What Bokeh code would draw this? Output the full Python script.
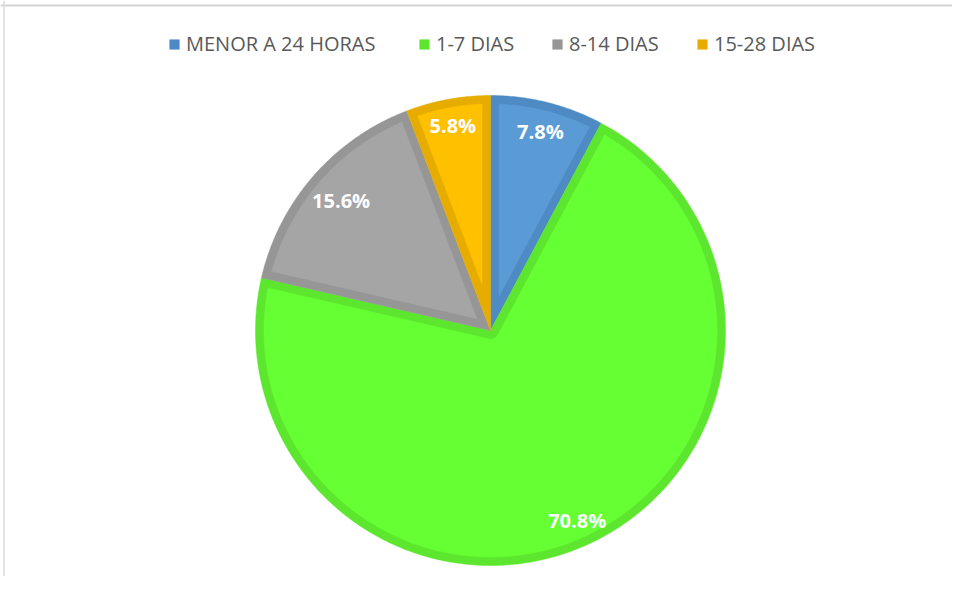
import math
from bokeh.plotting import figure
from bokeh.models import Range1d, Legend, LegendItem, Span, ColumnDataSource
from bokeh.embed import file_html
from bokeh.resources import INLINE
from bokeh.core.properties import value

# ---- data ----
categories = ["MENOR A 24 HORAS", "1-7 DIAS", "8-14 DIAS", "15-28 DIAS"]
percentages = [7.8, 70.8, 15.6, 5.8]
labels = ["7.8%", "70.8%", "15.6%", "5.8%"]

# ---- styles ----
fill_colors = ["#5B9BD5", "#66FF33", "#A5A5A5", "#FFC000"]
border_colors = ["#4E8AC4", "#5CE62E", "#969696", "#E6AD00"]
label_radius = [0.875, 0.89, 0.843, 0.885]   # fraction of radius for data labels
legend_x = [168, 418, 551, 696]              # left edge of each legend swatch (image px)

OX, OY = 0, 0          # image position of the canvas
W, H = 952, 576
CX, CY, R = 490, 330, 235
BORDER = 8.5

p = figure(width=W, height=H, output_backend="svg", toolbar_location=None,
           x_range=Range1d(OX, OX + W), y_range=Range1d(OY + H, OY),
           x_axis_type=None, y_axis_type=None, min_border=0)
p.grid.visible = False
p.outline_line_color = None
p.background_fill_color = "white"
p.border_fill_color = "white"

# chart frame (top and left edges visible)
p.add_layout(Span(location=5, dimension="width", line_color="#D4D4D4", line_width=2))
p.add_layout(Span(location=3.5, dimension="height", line_color="#DCDCDC", line_width=1.5))


def pt(theta, r):
    return CX + r * math.sin(theta), CY - r * math.cos(theta)


def arc(a0, a1, r, step=math.radians(0.5)):
    n = max(2, int(abs(a1 - a0) / step) + 1)
    return [pt(a0 + (a1 - a0) * k / (n - 1), r) for k in range(n)]


total = sum(percentages)
starts, ends = [], []
acc = 0.0
for v in percentages:
    starts.append(2 * math.pi * acc / total)
    acc += v
    ends.append(2 * math.pi * acc / total)

outer_renderers = []
for i in range(len(percentages)):
    a0, a1 = starts[i], ends[i]
    span = a1 - a0
    # outer shape (border colour)
    pts = [(CX, CY)] + arc(a0, a1, R)
    xs, ys = zip(*pts)
    r_out = p.patch(list(xs), list(ys), fill_color=border_colors[i],
                    line_color=border_colors[i], line_width=0.5)
    outer_renderers.append(r_out)
    # inner shape (fill colour), inset by BORDER
    d = BORDER
    delta = math.asin(d / (R - d))
    inner = arc(a0 + delta, a1 - delta, R - d)
    if span < math.pi:
        apex_r = d / math.sin(span / 2)
        inner = inner + [pt(a0 + span / 2, apex_r)]
    else:
        # reflex wedge: rounded corner of radius d around the apex
        inner = inner + arc(a1 - math.pi / 2, a0 + math.pi / 2, d)
    xs, ys = zip(*inner)
    p.patch(list(xs), list(ys), fill_color=fill_colors[i], line_color=fill_colors[i], line_width=0.5)

# data labels
lx, ly = [], []
for i in range(len(percentages)):
    mid = (starts[i] + ends[i]) / 2
    x, y = pt(mid, R * label_radius[i])
    lx.append(x)
    ly.append(y)
src = ColumnDataSource(dict(x=lx, y=ly, text=labels))
p.text(x="x", y="y", text="text", source=src, text_align="center", text_baseline="middle",
       text_font=value("Open Sans"), text_font_style="bold", text_font_size="20px",
       text_color="white")

# legend (one entry per swatch position)
ITEM_H = 26
for i in range(len(categories)):
    vy = H - ((44 - OY) + ITEM_H / 2)
    leg = Legend(items=[LegendItem(label=categories[i], renderers=[outer_renderers[i]])],
                 location=(legend_x[i] - OX, vy), orientation="horizontal",
                 glyph_width=12, glyph_height=12, label_standoff=6, label_height=ITEM_H,
                 padding=0, margin=0, border_line_alpha=0, background_fill_alpha=0,
                 label_text_font="Open Sans", label_text_font_size="20px",
                 label_text_color="#595959")
    p.add_layout(leg)

open("out.html", "w").write(file_html(p, INLINE))
